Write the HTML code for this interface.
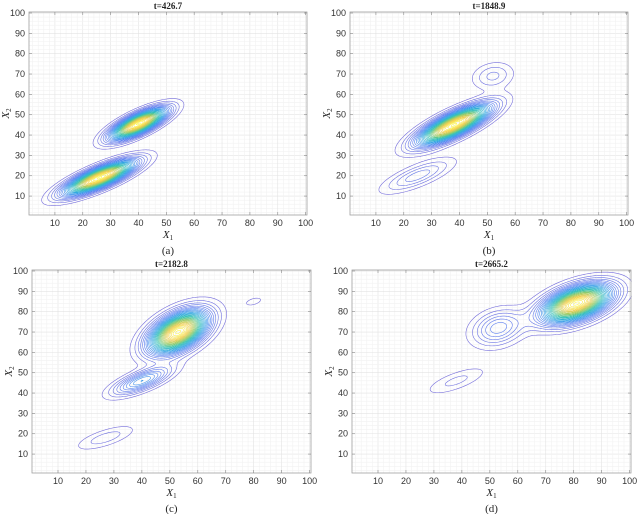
<!DOCTYPE html>
<html><head><meta charset="utf-8"><style>
html,body{margin:0;padding:0;background:#fff;}
svg{display:block;}
</style></head><body>
<svg id="fig" width="640" height="514" viewBox="0 0 640 514" xmlns="http://www.w3.org/2000/svg"></svg>
<script>
// Gaussian component data per panel: centers, peak heights, sigmas, angles (deg)
const titles = ["t=426.7", "t=1848.9", "t=2182.8", "t=2665.2"];
const captions = ["(a)", "(b)", "(c)", "(d)"];
const aCx = [40, 26], aCy = [45.5, 19], aPeak = [1, 1], aS1 = [7.3, 9], aS2 = [2.6, 2.7], aAng = [35, 31];
const bCx = [38, 25, 52], bCy = [45, 20, 69], bPeak = [1, 0.14, 0.1], bS1 = [9.5, 9, 5], bS2 = [3.1, 3, 4], bAng = [35, 30, 30];
const cCx = [53, 40, 27, 80], cCy = [70, 46, 18, 85], cPeak = [1, 0.3, 0.08, 0.04], cS1 = [8, 7.5, 7.5, 3.5], cS2 = [4.6, 2.7, 2.6, 1.8], cAng = [45, 30, 25, 25];
const dCx = [81, 53, 38, 24], dCy = [84, 72, 46, 20], dPeak = [1, 0.2, 0.07, 0.035], dS1 = [8.5, 6.5, 8, 0.6], dS2 = [4.6, 5, 2.8, 0.3], dAng = [30, 40, 28, 20];
const xTicks = [10,20,30,40,50,60,70,80,90,100];
const yTicks = [10,20,30,40,50,60,70,80,90,100];
const levelStep = 0.03, nLevels = 33;

const panels = [
 {cx:aCx,cy:aCy,pk:aPeak,s1:aS1,s2:aS2,ang:aAng,L:29,R:307,T:12,B:215,name:"panel-a"},
 {cx:bCx,cy:bCy,pk:bPeak,s1:bS1,s2:bS2,ang:bAng,L:350,R:628,T:12,B:215,name:"panel-b"},
 {cx:cCx,cy:cCy,pk:cPeak,s1:cS1,s2:cS2,ang:cAng,L:32,R:311,T:270,B:473,name:"panel-c"},
 {cx:dCx,cy:dCy,pk:dPeak,s1:dS1,s2:dS2,ang:dAng,L:352,R:631,T:270,B:473,name:"panel-d"}
];
const NS = "http://www.w3.org/2000/svg";
const svg = document.getElementById("fig");
function mk(tag, attrs, parent){const e=document.createElementNS(NS,tag);for(const k in attrs)e.setAttribute(k,attrs[k]);(parent||svg).appendChild(e);return e;}
function parula(f){
  const st=[[0.45,0.42,0.86],[0.35,0.5,0.95],[0.2,0.65,0.9],[0.2,0.76,0.7],[0.6,0.8,0.4],[0.95,0.8,0.3],[0.99,0.97,0.3]];
  const p=f*(st.length-1),i=Math.min(Math.floor(p),st.length-2),t=p-i;
  const c=st[i].map((v,k)=>Math.round(255*(v+(st[i+1][k]-v)*t)));
  return `rgb(${c[0]},${c[1]},${c[2]})`;
}
const D0=0.7, D1=100.5;
panels.forEach((P,pi)=>{
  const g=mk("g",{});
  
  
  const sx=v=>P.L+(v-D0)/(D1-D0)*(P.R-P.L);
  const sy=v=>P.B-(v-D0)/(D1-D0)*(P.B-P.T);
  for(let v=2; v<=100; v+=2){
    const major=v%10===0;
    mk("line",{x1:sx(v),x2:sx(v),y1:P.T,y2:P.B,stroke:major?"#e3e3e3":"#f2f2f2","stroke-width":0.6},g);
    mk("line",{y1:sy(v),y2:sy(v),x1:P.L,x2:P.R,stroke:major?"#e3e3e3":"#f2f2f2","stroke-width":0.6},g);
  }
  const comps=P.cx.map((_,i)=>{const a=P.ang[i]*Math.PI/180;return{cx:P.cx[i],cy:P.cy[i],pk:P.pk[i],s1:P.s1[i],s2:P.s2[i],c:Math.cos(a),s:Math.sin(a)};});
  const f=(x,y)=>{let v=0;for(const q of comps){const dx=x-q.cx,dy=y-q.cy;const u=dx*q.c+dy*q.s,w=-dx*q.s+dy*q.c;v+=q.pk*Math.exp(-0.5*(u*u/(q.s1*q.s1)+w*w/(q.s2*q.s2)));}return v;};
  const h=0.5,N=Math.round((D1-D0)/h);
  const G=[];for(let j=0;j<=N;j++){G[j]=[];for(let i=0;i<=N;i++)G[j][i]=f(D0+i*h,D0+j*h);}
  const cg=mk("g",{fill:"none","stroke-width":0.6},g);
  
  
  for(let k=1;k<=nLevels;k++){
    const lv=k*levelStep; let d="";
    for(let j=0;j<N;j++)for(let i=0;i<N;i++){
      const v0=G[j][i],v1=G[j][i+1],v2=G[j+1][i+1],v3=G[j+1][i];
      const idx=(v0>lv?1:0)|(v1>lv?2:0)|(v2>lv?4:0)|(v3>lv?8:0);
      if(idx===0||idx===15)continue;
      const x0=D0+i*h,y0=D0+j*h;
      const pts=[];
      const e=(a,b,ax,ay,bx,by)=>{const t=(lv-a)/(b-a);return[ax+(bx-ax)*t,ay+(by-ay)*t];};
      if((v0>lv)!==(v1>lv))pts.push(e(v0,v1,x0,y0,x0+h,y0));
      if((v1>lv)!==(v2>lv))pts.push(e(v1,v2,x0+h,y0,x0+h,y0+h));
      if((v2>lv)!==(v3>lv))pts.push(e(v2,v3,x0+h,y0+h,x0,y0+h));
      if((v3>lv)!==(v0>lv))pts.push(e(v3,v0,x0,y0+h,x0,y0));
      for(let p=0;p+1<pts.length;p+=2)d+=`M${sx(pts[p][0]).toFixed(2)} ${sy(pts[p][1]).toFixed(2)}L${sx(pts[p+1][0]).toFixed(2)} ${sy(pts[p+1][1]).toFixed(2)}`;
    }
    if(d){const pa=mk("path",{d:d,stroke:parula((k-1)/(nLevels-1))},cg);
      
      }
  }
  const fr=mk("rect",{x:P.L,y:P.T,width:P.R-P.L,height:P.B-P.T,fill:"none",stroke:"#a0a0a0","stroke-width":0.8},g);
  
  
  xTicks.forEach(v=>{
    mk("line",{x1:sx(v),x2:sx(v),y1:P.B,y2:P.B-3,stroke:"#888","stroke-width":0.6},g);
    mk("line",{x1:sx(v),x2:sx(v),y1:P.T,y2:P.T+3,stroke:"#888","stroke-width":0.6},g);
    const t=mk("text",{x:sx(v),y:P.B+11,"font-size":9,"text-anchor":"middle",fill:"#333","font-family":"Liberation Sans, sans-serif"},g);
    t.textContent=v;
    
    
  });
  yTicks.forEach(v=>{
    mk("line",{y1:sy(v),y2:sy(v),x1:P.L,x2:P.L+3,stroke:"#888","stroke-width":0.6},g);
    mk("line",{y1:sy(v),y2:sy(v),x1:P.R,x2:P.R-3,stroke:"#888","stroke-width":0.6},g);
    const t=mk("text",{x:P.L-4,y:sy(v)+3,"font-size":9,"text-anchor":"end",fill:"#333","font-family":"Liberation Sans, sans-serif"},g);
    t.textContent=v;
    
    
  });
  const mid=(P.L+P.R)/2;
  const tt=mk("text",{x:mid,y:P.T-3,"font-size":9,"font-weight":"bold","text-anchor":"middle",fill:"#222","font-family":"Liberation Serif, serif"},g);
  tt.textContent=titles[pi];
  
  
  const xl=mk("text",{x:mid,y:P.B+23,"font-size":11,"text-anchor":"middle",fill:"#222","font-family":"Liberation Serif, serif","font-style":"italic"},g);
  xl.innerHTML='X<tspan font-size="7" dy="2" font-style="normal">1</tspan>';
  
  
  const ym=(P.T+P.B)/2;
  const yl=mk("text",{x:0,y:0,"font-size":11,"text-anchor":"middle",fill:"#222","font-family":"Liberation Serif, serif","font-style":"italic",transform:`translate(${P.L-20},${ym}) rotate(-90)`},g);
  yl.innerHTML='X<tspan font-size="7" dy="2" font-style="normal">2</tspan>';
  
  
  const cp=mk("text",{x:mid,y:P.B+39,"font-size":11,"text-anchor":"middle",fill:"#222","font-family":"Liberation Serif, serif"},g);
  cp.textContent=captions[pi];
  
  
});
</script>
</body></html>
